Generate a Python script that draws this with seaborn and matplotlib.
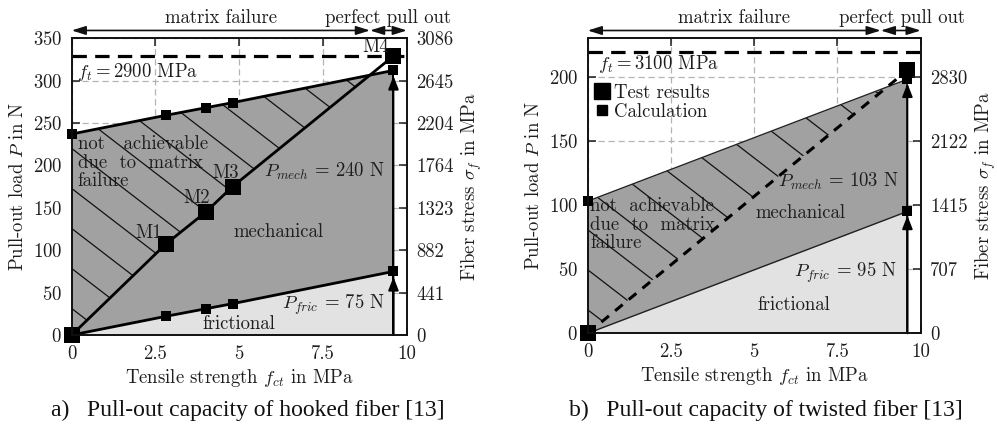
import numpy as np
import matplotlib
matplotlib.use("Agg")
import matplotlib.pyplot as plt
import seaborn as sns
from matplotlib.collections import LineCollection
from matplotlib.lines import Line2D

# ---------------- data ----------------
# (a) hooked fiber
hook_fct = [0.0, 2.8, 4.0, 4.8, 9.6]                 # tensile strength f_ct [MPa]
hook_total = [237, 259, 268, 274, 312]               # calculated mechanical + frictional [N]
hook_fric = [0, 22, 31, 37, 75]                      # calculated frictional [N]
hook_test = [0, 107, 145, 175, 329]                  # test results [N]
hook_test_names = ["", "M1", "M2", "M3", "M4"]
hook_ft = 2900                                       # fibre tensile strength [MPa]
hook_load_ticks = [0, 50, 100, 150, 200, 250, 300, 350]
hook_stress_ticks = ["0", "441", "882", "1323", "1764", "2204", "2645", "3086"]
hook_split = 8.9                                     # matrix failure / pull out boundary
hook_pmech = 240
hook_pfric = 75

# (b) twisted fiber
twist_fct = [0.0, 9.6]
twist_total = [103, 198]
twist_fric = [0, 95]
twist_test = [0, 205]
twist_ft = 3100
twist_load_ticks = [0, 50, 100, 150, 200]
twist_stress_ticks = ["0", "707", "1415", "2122", "2830"]
twist_split = 8.8
twist_pmech = 103
twist_pfric = 95

x_ticks = [0, 2.5, 5, 7.5, 10]
x_tick_labels = ["0", "2.5", "5", "7.5", "10"]

# ---------------- style ----------------
sns.set_theme(style="ticks")
plt.rcParams.update({
    "font.family": ["cmr10", "DejaVu Serif"],
    "mathtext.fontset": "cm",
    "axes.formatter.use_mathtext": True,
    "font.size": 13.5,
    "text.color": "#1e1e1e",
    "axes.labelcolor": "#1e1e1e",
    "xtick.color": "#1e1e1e",
    "ytick.color": "#1e1e1e",
    "axes.edgecolor": "#111111",
    "axes.linewidth": 1.2,
})

DARK = "#a1a1a1"
LIGHT = "#e2e2e2"
GRID = "#b4b4b4"
FS = 13.5

fig = plt.figure(figsize=(9.97, 4.29), dpi=100)
ax_a = fig.add_axes([0.0719, 0.219, 0.3362, 0.692])
ax_b = fig.add_axes([0.5895, 0.223, 0.334, 0.688])


def hatch_lines(ax, region, x0, y0, spacing_px=40, slope_px=0.77, lw=0.9):
    """Sparse diagonal hatch drawn in display space and clipped to a filled region."""
    inv = ax.transData.inverted()
    bx0, by0 = ax.transData.transform((ax.get_xlim()[0], ax.get_ylim()[0]))
    bx1, by1 = ax.transData.transform((ax.get_xlim()[1], ax.get_ylim()[1]))
    px0, py0 = ax.transData.transform((x0, y0))
    width = bx1 - bx0
    segs = []
    for k in range(-40, 40):
        yk = py0 + k * spacing_px
        p1 = (bx0 - 10, yk + slope_px * 10)
        p2 = (bx1 + 10, yk - slope_px * (width + 10))
        segs.append(inv.transform([p1, p2]))
    lc = LineCollection(segs, colors="#111111", linewidths=lw, zorder=2.5)
    ax.add_collection(lc)
    lc.set_clip_path(region.get_paths()[0], ax.transData)


def setup_axes(ax, ymax, load_ticks, stress_ticks, split):
    ax.set_xlim(0, 10)
    ax.set_ylim(0, ymax)
    ax.set_xticks(x_ticks)
    ax.set_xticklabels(x_tick_labels)
    ax.set_yticks(load_ticks)
    ax.set_axisbelow(True)
    ax.grid(True, color=GRID, lw=0.9, ls=(0, (5, 3)))
    ax.tick_params(direction="in", length=6, width=1.1, labelsize=FS,
                   top=True, right=False, pad=7)
    ax.set_xlabel(r"Tensile strength $f_{ct}$ in MPa", fontsize=FS, labelpad=3)
    ax.set_ylabel(r"Pull-out load $P$ in N", fontsize=FS)
    for s in ax.spines.values():
        s.set_visible(True)
        s.set_linewidth(1.2)
    twin = ax.twinx()
    twin.set_ylim(0, ymax)
    twin.set_yticks(load_ticks)
    twin.set_yticklabels(stress_ticks)
    twin.tick_params(direction="in", length=6, width=1.1, labelsize=FS, pad=7)
    twin.set_ylabel(r"Fiber stress $\sigma_f$ in MPa", fontsize=FS, labelpad=4)
    twin.grid(False)
    # regime arrows above the plot
    yarr = 1.026
    kw = dict(xycoords=("data", "axes fraction"), textcoords=("data", "axes fraction"),
              annotation_clip=False,
              arrowprops=dict(arrowstyle="<|-|>,head_length=0.7,head_width=0.22",
                              color="#111111", lw=1.2, shrinkA=0, shrinkB=0,
                              mutation_scale=12))
    ax.annotate("", xy=(0, yarr), xytext=(split, yarr), **kw)
    ax.annotate("", xy=(split, yarr), xytext=(10, yarr), **kw)
    ax.text(split / 2, 1.068, "matrix failure", transform=ax.get_xaxis_transform(),
            ha="center", va="center", fontsize=FS)
    ax.text(9.43, 1.068, "perfect pull out", transform=ax.get_xaxis_transform(),
            ha="center", va="center", fontsize=FS)
    return twin


def capacity_arrows(ax, x, values, shrink):
    for v in values:
        ax.annotate("", xy=(x, v), xytext=(x, 0),
                    arrowprops=dict(arrowstyle="-|>,head_length=0.9,head_width=0.35",
                                    color="black", lw=1.3, shrinkA=0, shrinkB=shrink,
                                    mutation_scale=9), zorder=3.5)


# ================= (a) hooked fiber =================
ax = ax_a
twin_a = setup_axes(ax, 350, hook_load_ticks, hook_stress_ticks, hook_split)
hx = np.array(hook_fct)
ax.fill_between(hx, 0, hook_fric, color=LIGHT, lw=0, zorder=1)
ax.fill_between(hx, hook_fric, hook_total, color=DARK, lw=0, zorder=1)

ft_a = hook_ft / (float(hook_stress_ticks[-1]) / hook_load_ticks[-1])
ax.axhline(ft_a, color="black", lw=2.3, ls=(0, (4.5, 2.6)), zorder=3)
ax.vlines(hook_fct[-1], 0, hook_total[-1], color="black", lw=1.4, zorder=3)
capacity_arrows(ax, hook_fct[-1], [hook_total[-1], hook_fric[-1]], 4)

sns.lineplot(x=hook_fct, y=hook_total, ax=ax, color="black", lw=2, marker="s",
             markersize=6.5, markeredgewidth=0, sort=False, estimator=None, zorder=4,
             clip_on=False)
sns.lineplot(x=hook_fct, y=hook_fric, ax=ax, color="black", lw=2, marker="s",
             markersize=6.5, markeredgewidth=0, sort=False, estimator=None, zorder=4,
             clip_on=False)
sns.lineplot(x=hook_fct, y=hook_test, ax=ax, color="black", lw=2, marker="s",
             markersize=11, markeredgewidth=0, sort=False, estimator=None, zorder=4.5,
             clip_on=False)

ax.text(0.15, 310, r"$f_t = 2900$ MPa", ha="left", va="center", fontsize=FS, zorder=5)
ax.text(0.18, 203, "not   achievable\ndue  to  matrix\nfailure", ha="left", va="center",
        fontsize=FS, linespacing=1.05, zorder=2)
for xv, yv, name, off in zip(hook_fct, hook_test, hook_test_names,
                             [(0, 0), (-0.5, 13), (-0.26, 16), (-0.22, 15.5), (-0.52, 11)]):
    if name:
        ax.text(xv + off[0], yv + off[1], name, ha="center", va="center", fontsize=FS, zorder=5)
ax.text(7.53, 192.5, r"$P_{mech}$ = %d N" % hook_pmech, ha="center", va="center", fontsize=FS, zorder=5)
ax.text(6.16, 122, "mechanical", ha="center", va="center", fontsize=FS, zorder=5)
ax.text(7.8, 35.4, r"$P_{fric}$ = %d N" % hook_pfric, ha="center", va="center", fontsize=FS, zorder=5)
ax.text(5.0, 13, "frictional", ha="center", va="center", fontsize=FS, zorder=5)

# ================= (b) twisted fiber =================
ax = ax_b
twin_b = setup_axes(ax, 230, twist_load_ticks, twist_stress_ticks, twist_split)
tx = np.array(twist_fct)
ax.fill_between(tx, 0, twist_fric, color=LIGHT, lw=0, zorder=1)
ax.fill_between(tx, twist_fric, twist_total, color=DARK, lw=0, zorder=1)

ft_b = twist_ft / (float(twist_stress_ticks[-1]) / twist_load_ticks[-1])
ax.axhline(ft_b, color="black", lw=2.3, ls=(0, (4.5, 2.6)), zorder=3)
ax.vlines(twist_fct[-1], 0, twist_total[-1], color="#222222", lw=1.2, zorder=3)
capacity_arrows(ax, twist_fct[-1], [twist_total[-1], twist_fric[-1]], 3)

sns.lineplot(x=twist_fct, y=twist_total, ax=ax, color="#222222", lw=1.0, sort=False,
             estimator=None, zorder=4)
sns.lineplot(x=twist_fct, y=twist_fric, ax=ax, color="#222222", lw=1.0, sort=False,
             estimator=None, zorder=4)
ax.plot(twist_fct, twist_test, color="black", lw=2.2, ls=(0, (3.2, 2.6)), zorder=4)
sns.scatterplot(x=twist_fct, y=twist_total, ax=ax, color="black", marker="s", s=42,
                linewidth=0, zorder=5, clip_on=False)
sns.scatterplot(x=twist_fct[1:], y=twist_fric[1:], ax=ax, color="black", marker="s", s=42,
                linewidth=0, zorder=5, clip_on=False)
sns.scatterplot(x=twist_fct, y=twist_test, ax=ax, color="black", marker="s", s=120,
                linewidth=0, zorder=5.5, clip_on=False)

ax.text(0.32, 209.6, r"$f_t = 3100$ MPa", ha="left", va="center", fontsize=FS, zorder=5)
ax.text(0.07, 84.6, "not  achievable\ndue  to  matrix\nfailure", ha="left", va="center",
        fontsize=FS, linespacing=1.05, zorder=2)
ax.text(7.52, 118.5, r"$P_{mech}$ = %d N" % twist_pmech, ha="center", va="center", fontsize=FS, zorder=5)
ax.text(6.4, 94, "mechanical", ha="center", va="center", fontsize=FS, zorder=5)
ax.text(7.73, 47, r"$P_{fric}$ = %d N" % twist_pfric, ha="center", va="center", fontsize=FS, zorder=5)
ax.text(6.19, 22, "frictional", ha="center", va="center", fontsize=FS, zorder=5)

handles = [Line2D([], [], ls="none", marker="s", color="black", markersize=11),
           Line2D([], [], ls="none", marker="s", color="black", markersize=6.5)]
leg = ax.legend(handles, ["Test results", "Calculation"], loc="upper left",
                bbox_to_anchor=(0.02, 0.845), frameon=False, fontsize=FS,
                handlelength=0.8, handletextpad=0.25, labelspacing=0.05,
                borderpad=0, borderaxespad=0)

# ---- hatching of the regions not achievable due to matrix failure ----
region_a = ax_a.fill_between(hx, hook_test, hook_total,
                             where=np.array(hook_total) >= np.array(hook_test),
                             interpolate=True, facecolor="none", lw=0, zorder=0)
hatch_lines(ax_a, region_a, 0, 220)
region_b = ax_b.fill_between(tx, twist_test, twist_total, facecolor="none", lw=0, zorder=0)
hatch_lines(ax_b, region_b, 0, 80.7)

# ---- captions ----
fig.text(0.249, 0.044, "a)   Pull-out capacity of hooked fiber [13]", ha="center", va="center",
         fontsize=17, family="Liberation Serif", color="#111111")
fig.text(0.768, 0.044, "b)   Pull-out capacity of twisted fiber [13]", ha="center", va="center",
         fontsize=17, family="Liberation Serif", color="#111111")

fig.savefig("out.png", dpi=100)
